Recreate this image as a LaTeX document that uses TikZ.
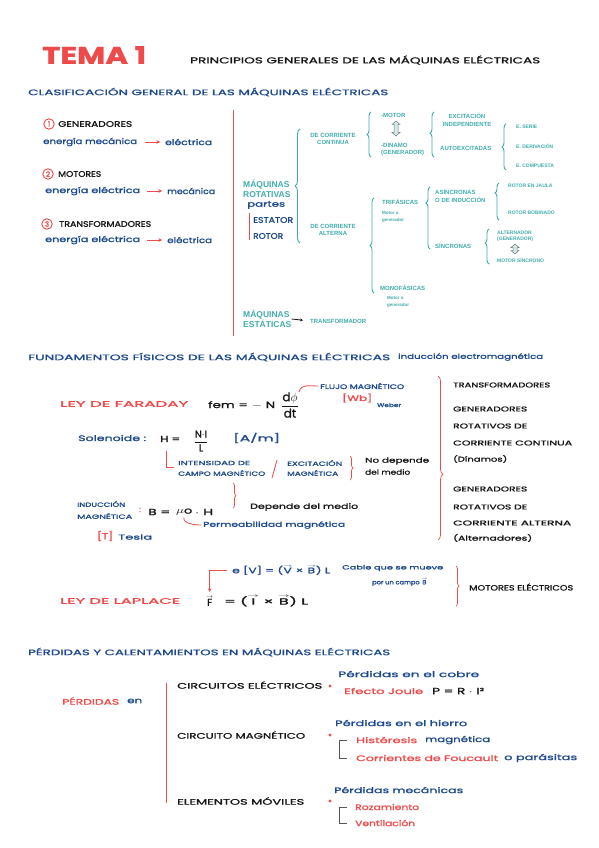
\documentclass[tikz,border=0pt]{standalone}
\usepackage{fontspec}
\usepackage{graphicx}
\setmainfont{Liberation Sans}
\newfontfamily\handfont[FakeBold=1.2]{Poppins}
\usetikzlibrary{arrows.meta,decorations.pathreplacing}
\definecolor{hred}{RGB}{238,74,74}
\definecolor{hblue}{RGB}{28,72,140}
\definecolor{hteal}{RGB}{66,172,172}
\definecolor{hgrey}{RGB}{85,85,85}
\definecolor{hblack}{RGB}{22,22,22}
% stretch a handwritten line to the width it has on the page
\newcommand{\hw}[2]{\resizebox{#1pt}{\height}{#2}}
% vector letter, arrow set above it
\newcommand{\vc}[1]{{\offinterlineskip\vbox{\halign{\hfil##\hfil\cr
  \scalebox{0.7}[0.6]{$\rightarrow$}\cr\noalign{\kern0.6pt}#1\cr}}}}
% hollow double arrow: x, top y, length
\newcommand{\dblarr}[3]{%
  \filldraw[draw=hgrey!80, fill=hteal!25, line width=0.5pt] (#1,#2) -- ++(4,3.5) -- ++(-2,0)
    -- ++(0,#3-7) -- ++(2,0) -- ++(-4,3.5) -- ++(-4,-3.5) -- ++(2,0) -- ++(0,-#3+7) -- ++(-2,0) -- cycle;
}

\begin{document}
\begin{tikzpicture}[x=1pt,y=-1pt,
    hand/.style={font=\handfont\fontsize{8}{9}\selectfont, inner sep=0pt, anchor=west},
    head/.style={hand, text=hblue},
    blu/.style={text=hblue}, rd/.style={text=hred}, blk/.style={text=hblack},
    fs/.style={font=\handfont\fontsize{#1}{#1}\selectfont},
    lst/.style={hand, blk, fs=7},
    tbig/.style={font=\bfseries\fontsize{8.5}{10}\selectfont, text=hteal, align=left, inner sep=0pt, anchor=west},
    tsm/.style={font=\bfseries\fontsize{6}{7.5}\selectfont, text=hteal, inner sep=0pt, anchor=west},
    ttn/.style={font=\bfseries\fontsize{5}{6.5}\selectfont, text=hteal, inner sep=0pt, anchor=west},
    tmn/.style={font=\bfseries\fontsize{4.5}{7}\selectfont, text=hteal, inner sep=0pt, anchor=west},
    tbrace/.style={draw=hteal, line width=0.9pt, decorate, decoration={brace, amplitude=4pt}},
    rbrace/.style={draw=hred, line width=0.7pt, decorate, decoration={brace, amplitude=3pt}},
    rline/.style={draw=hred, line width=0.8pt},
    rarrow/.style={hred, line width=0.8pt, -{Stealth[length=3.5pt,width=3.5pt]}},
    karrow/.style={hblack, line width=0.8pt, -{Stealth[length=3pt,width=3pt]}},
    gbrk/.style={draw=hgrey, line width=1pt},
    numc/.style={circle, draw=hred, text=hred, line width=0.9pt, inner sep=0pt, minimum size=10.5pt, font=\handfont\fontsize{7}{7}\selectfont}]
  \fill[white] (0,0) rectangle (599,848);
  \useasboundingbox (0,0) rectangle (599,848);

  % title
  \node[hand, rd, font=\handfont\bfseries\fontsize{24}{24}\selectfont] (tema) at (42,55) {\hw{104}{TEMA 1}};
  \node[hand, blk, fs=8.5] (titulo) at (190,60) {\hw{350}{PRINCIPIOS GENERALES DE LAS MÁQUINAS ELÉCTRICAS}};

  % clasificacion
  \node[head] (clasif) at (28,92) {\hw{360}{CLASIFICACIÓN GENERAL DE LAS MÁQUINAS ELÉCTRICAS}};
  \node[numc] (n1) at (49,124) {1};
  \node[hand, blk] (gen) at (58,124) {\hw{74}{GENERADORES}};
  \node[hand, blu] (e1a) at (43,142) {\hw{94}{energía mecánica}};
  \node[hand, blu] (e1b) at (165,142) {\hw{47}{eléctrica}};
  \draw[rarrow, shorten <=8pt, shorten >=5pt] (e1a.east) -- (e1b.west);
  \node[numc] (n2) at (48,174) {2};
  \node[hand, blk] (mot) at (58,174) {\hw{43}{MOTORES}};
  \node[hand, blu] (e2a) at (45,191) {\hw{95}{energía eléctrica}};
  \node[hand, blu] (e2b) at (167,191) {\hw{48}{mecánica}};
  \draw[rarrow, shorten <=7pt, shorten >=5pt] (e2a.east) -- (e2b.west);
  \node[numc] (n3) at (47,224) {3};
  \node[hand, blk] (trf) at (59,224) {\hw{92}{TRANSFORMADORES}};
  \node[hand, blu] (e3a) at (45,240) {\hw{95}{energía eléctrica}};
  \node[hand, blu] (e3b) at (167,240) {\hw{45}{eléctrica}};
  \draw[rarrow, shorten <=7pt, shorten >=5pt] (e3a.east) -- (e3b.west);
  \draw[rline] (233,110) -- (233,336);

  % arbol de maquinas
  \node[tbig] (rotat) at (243,189) {MÁQUINAS\\ROTATIVAS};
  \draw[tbrace, decoration={amplitude=5pt}] (300,243) -- (300,129);
  \node[hand, blu] (partes) at (247,205) {\hw{38}{partes}};
  \draw[rline] (249,213) -- (249,240);
  \node[hand, blu] (estator) at (253,220) {\hw{40}{ESTATOR}};
  \node[hand, blu] (rotor) at (253,236) {\hw{30}{ROTOR}};

  \node[tsm, align=center, anchor=center] (dc) at (333,139) {DE CORRIENTE\\CONTINUA};
  \draw[tbrace] (371,157) -- (371,112);
  \node[tsm] (motor) at (381,115) {-MOTOR};
  \dblarr{396}{121}{15}
  \node[tsm, align=left] (dinamo) at (381,149.5) {-DINAMO\\(GENERADOR)};
  \draw[tbrace, decoration={aspect=0.53}] (434,157) -- (434,112);
  \node[tsm, align=center, anchor=center] (excind) at (467,120) {EXCITACIÓN\\INDEPENDIENTE};
  \node[tsm] (autoexc) at (440,148) {AUTOEXCITADAS};
  \draw[tbrace] (506,170) -- (506,124);
  \node[ttn] (eserie) at (516,127) {E. SERIE};
  \node[ttn] (ederiv) at (516,146) {E. DERIVACIÓN};
  \node[ttn] (ecomp) at (516,166) {E. COMPUESTA};

  \node[tsm, align=center, anchor=center] (ac) at (333,230) {DE CORRIENTE\\ALTERNA};
  \draw[tbrace] (374,293) -- (374,198);
  \node[tsm] (trif) at (382,202) {TRIFÁSICAS};
  \node[tmn, align=left] (trifmot) at (382,216.5) {Motor o\\generador};
  \draw[tbrace, decoration={aspect=0.74}] (430,249) -- (430,187);
  \node[tsm, align=left] (asinc) at (435,196) {ASÍNCRONAS\\O DE INDUCCIÓN};
  \draw[tbrace, decoration={aspect=0.73}] (499,220) -- (499,183);
  \node[ttn] (jaula) at (508,186) {ROTOR EN JAULA};
  \node[ttn] (bobin) at (508,213) {ROTOR BOBINADO};
  \node[tsm] (sinc) at (435,246) {SÍNCRONAS};
  \draw[tbrace, decoration={aspect=0.6}] (489,264) -- (489,229);
  \node[ttn, align=left] (altern) at (497,236.5) {ALTERNADOR\\(GENERADOR)};
  \dblarr{515}{244}{10}
  \node[ttn] (motsinc) at (497,260) {MOTOR SÍNCRONO};
  \node[tsm] (monof) at (380,288) {MONOFÁSICAS};
  \node[tmn, align=left] (monomot) at (387,301.5) {Motor o\\generador};
  \node[tbig] (estat) at (243,319) {MÁQUINAS\\ESTÁTICAS};
  \node[tsm] (trafo) at (310,321) {TRANSFORMADOR};
  \draw[karrow, shorten >=7pt] (estat.east) -- (trafo.west);

  % fundamentos fisicos
  \node[head] (fund) at (28,357) {\hw{362}{FUNDAMENTOS FÍSICOS DE LAS MÁQUINAS ELÉCTRICAS}};
  \node[hand, blu, fs=7] (induc) at (398,357) {\hw{145}{inducción electromagnética}};

  \node[hand, rd] (faraday) at (60,404) {\hw{128}{LEY DE FARADAY}};
  \node[hand, blk, fs=9] (fem) at (208,405) {\hw{67}{fem = $-$ N}};
  \node[blk, fs=12, inner sep=0pt] (dphi) at (290,405) {$\displaystyle\frac{\mbox{d}\phi}{\mbox{dt}}$};
  \node[hand, blu, fs=6.5] (flujo) at (320,386) {\hw{84}{FLUJO MAGNÉTICO}};
  \draw[rline, shorten >=2pt] (dphi.north east) to[out=80,in=180] (flujo.west);
  \node[hand, rd, fs=8] (wb) at (342,398) {\hw{30}{[Wb]}};
  \node[hand, blu, fs=5.5] (weber) at (377,405) {\hw{24}{Weber}};

  \node[hand, blu] (solen) at (78,438) {\hw{68}{Solenoide :}};
  \node[hand, blk, fs=9] (hsym) at (160,439) {\hw{20}{H =}};
  \node[blk, fs=10, inner sep=0pt] (nil) at (201,441) {$\displaystyle\frac{\mbox{N$\cdot$I}}{\mbox{L}}$};
  \node[hand, blu, fs=9] (am) at (233,438) {\hw{47}{[A/m]}};
  \node[hand, blu, fs=6] (int1) at (178,463) {\hw{72}{INTENSIDAD DE}};
  \node[hand, blu, fs=6] (int2) at (178,473) {\hw{87}{CAMPO MAGNÉTICO}};
  \coordinate (hcorner) at (174,467);
  \draw[rline] ([xshift=6pt,yshift=-9pt]hsym.south west) |- (hcorner);
  \draw[rline] (272,478) -- (277,460);
  \node[hand, blu, fs=6] (exc1) at (287,463) {\hw{55}{EXCITACIÓN}};
  \node[hand, blu, fs=6] (exc2) at (287,473) {\hw{51}{MAGNÉTICA}};
  \draw[rbrace] (350,456) -- (350,480);
  \node[hand, blk, fs=7] (nodep1) at (365,461) {\hw{64}{No depende}};
  \node[hand, blk, fs=7] (nodep2) at (365,472) {\hw{45}{del medio}};

  \draw[rbrace, decoration={aspect=0.6, amplitude=5pt}] (438,376) -- (438,540);
  \node[lst] (l1) at (453,385) {\hw{97}{TRANSFORMADORES}};
  \node[lst] (l2) at (453,409) {\hw{74}{GENERADORES}};
  \node[lst] (l3) at (453,426) {\hw{74}{ROTATIVOS DE}};
  \node[lst] (l4) at (453,443) {\hw{119}{CORRIENTE CONTINUA}};
  \node[lst] (l5) at (453,459) {\hw{54}{(Dínamos)}};
  \node[lst] (l6) at (453,489) {\hw{74}{GENERADORES}};
  \node[lst] (l7) at (453,507) {\hw{74}{ROTATIVOS DE}};
  \node[lst] (l8) at (453,523) {\hw{118}{CORRIENTE ALTERNA}};
  \node[lst] (l9) at (453,538) {\hw{79}{(Alternadores)}};

  \node[hand, blu, fs=6] (ind1) at (77,504) {\hw{48}{INDUCCIÓN}};
  \node[hand, blu, fs=6] (ind2) at (77,516) {\hw{55}{MAGNÉTICA}};
  \node[hand, rd, fs=8] (colon) at (139,510) {:};
  \node[hand, blk, fs=9] (beq) at (148,512) {\hw{22}{B =}};
  \node[hand, blk, fs=9] (muo) at (176,512) {\hw{16}{$\mu$o}};
  \node[hand, blk, fs=9] (hdot) at (195,512) {\hw{18}{$\cdot$ H}};
  \draw[rbrace] (233,483) -- (233,508);
  \node[hand, blk, fs=7.5] (dep) at (250,507) {\hw{108}{Depende del medio}};
  \node[hand, blu, fs=7] (perm) at (203,525) {\hw{142}{Permeabilidad magnética}};
  \draw[rline, shorten <=2pt, shorten >=2pt] (muo.south) to[out=-100,in=180] (perm.west);
  \node[hand, rd, fs=9] (tesT) at (97,536) {\hw{16}{[T]}};
  \node[hand, blu, fs=7] (tesla) at (118,537) {\hw{34}{Tesla}};

  \node[hand, blu, fs=8] (emf) at (232,570) {\hw{98}{e [V] = (\vc{V} × \vc{B}) L}};
  \node[hand, blu, fs=6] (cable1) at (342,568) {\hw{101}{Cable que se mueve}};
  \node[hand, blu, fs=6] (cable2) at (372,582) {\hw{55}{por un campo \vc{B}}};
  \node[hand, rd] (laplace) at (60,601) {\hw{120}{LEY DE LAPLACE}};
  \node[hand, blk, fs=10] (fvec) at (206,601) {\vc{F}};
  \node[hand, blk, fs=9] (frest) at (224,601) {\hw{84}{= (\vc{I} × \vc{B}) L}};
  \draw[rarrow, shorten <=5pt, shorten >=4pt] (emf.west) -| (fvec.north);
  \draw[rbrace] (456,566) -- (456,606);
  \node[hand, blk, fs=7.5] (motel) at (469,587) {\hw{104}{MOTORES ELÉCTRICOS}};

  % perdidas
  \node[head] (perd) at (28,652) {\hw{362}{PÉRDIDAS Y CALENTAMIENTOS EN MÁQUINAS ELÉCTRICAS}};
  \node[hand, rd] (perden) at (62,701) {\hw{57}{PÉRDIDAS}};
  \node[hand, blu] (en) at (127,701) {\hw{15}{en}};
  \draw[rline] (166,683) -- (166,803);
  \node[hand, blk] (circel) at (177,685) {\hw{145}{CIRCUITOS ELÉCTRICOS}};
  \node[hand, blk] (circmag) at (177,735) {\hw{128}{CIRCUITO MAGNÉTICO}};
  \node[hand, blk] (elmov) at (177,801) {\hw{127}{ELEMENTOS MÓVILES}};
  \fill[hred] (330,686) circle (1.6) (330,735) circle (1.6) (330,801) circle (1.6);

  \node[hand, blu] (cobre) at (338,674) {\hw{141}{Pérdidas en el cobre}};
  \node[hand, rd] (joule) at (344,691) {\hw{79}{Efecto Joule}};
  \node[hand, blk, fs=9] (pri) at (432,691) {\hw{52}{P = R $\cdot$ I²}};

  \node[hand, blu] (hierro) at (335,723) {\hw{132}{Pérdidas en el hierro}};
  \node[hand, rd] (hist) at (356,740) {\hw{61}{Histéresis}};
  \node[hand, blu] (histb) at (425,740) {\hw{65}{magnética}};
  \node[hand, rd] (fouc) at (356,758) {\hw{142}{Corrientes de Foucault}};
  \node[hand, blu] (foucb) at (504,758) {\hw{73}{o parásitas}};
  \draw[gbrk] ([xshift=-9pt]hist.west) -| ([xshift=-17pt]fouc.west) -- ([xshift=-9pt]fouc.west);

  \node[hand, blu] (mecan) at (334,790) {\hw{129}{Pérdidas mecánicas}};
  \node[hand, rd] (roza) at (355,807) {\hw{64}{Rozamiento}};
  \node[hand, rd] (venti) at (355,823) {\hw{60}{Ventilación}};
  \draw[gbrk] ([xshift=-8pt]roza.west) -| ([xshift=-16pt]venti.west) -- ([xshift=-8pt]venti.west);
\end{tikzpicture}
\end{document}
